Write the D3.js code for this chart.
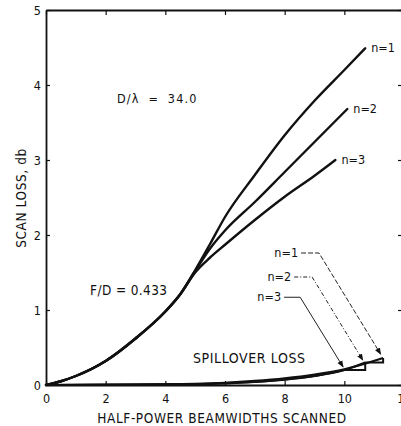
<!DOCTYPE html>
<html>
<head>
<meta charset="utf-8">
<script src="https://cdn.jsdelivr.net/npm/d3@7"></script>
<style>
  html, body { margin: 0; padding: 0; background: #fff; }
  svg { display: block; }
  text { font-family: "DejaVu Sans Condensed", "DejaVu Sans", sans-serif; font-stretch: condensed; fill: #111; }
</style>
</head>
<body>
<svg id="chart" width="401" height="426"></svg>
<script>
// Scan loss versus beamwidths scanned, for aperture distributions n = 1, 2, 3
const xTicks = [0, 2, 4, 6, 8, 10, 12];
const yTicks = [0, 1, 2, 3, 4, 5];

// shared portion of the scan-loss curve (all n coincide here)
const commonX = [0, 0.5, 1, 2, 3, 4, 4.5];
const commonY = [0, 0.05, 0.12, 0.32, 0.62, 0.98, 1.21];

// branches after the curves separate
const n1X = [5, 5.5, 6, 7, 8, 9, 10, 10.7];
const n1Y = [1.53, 1.88, 2.24, 2.8, 3.33, 3.79, 4.2, 4.49];
const n2X = [5, 5.5, 6, 7, 8, 9, 10.1];
const n2Y = [1.52, 1.82, 2.06, 2.44, 2.84, 3.24, 3.68];
const n3X = [5, 5.5, 6, 7, 8, 9, 9.7];
const n3Y = [1.5, 1.7, 1.87, 2.2, 2.51, 2.79, 3.0];
const scanLabels = ["n=1", "n=2", "n=3"];

// spillover loss curves
const spillX1 = [0, 3, 5, 6, 7, 8, 9, 10, 11.3];
const spillY1 = [0, 0.003, 0.015, 0.03, 0.055, 0.09, 0.14, 0.21, 0.36];
const spillX2 = [0, 5, 6, 7, 8, 9, 10, 10.7];
const spillY2 = [0, 0.012, 0.025, 0.045, 0.075, 0.12, 0.2, 0.3];
const spillX3 = [0, 5, 6, 7, 8, 9, 10];
const spillY3 = [0, 0.01, 0.02, 0.04, 0.07, 0.12, 0.2];

// callout labels for the spillover curves: label anchor and arrow target (data units)
const spillLabels = ["n=1", "n=2", "n=3"];
const calloutFrom = [[8.55, 1.76], [8.32, 1.44], [7.98, 1.17]];
const calloutBend = [[9.15, 1.76], [8.92, 1.44], [8.52, 1.17]];
const calloutTo = [[11.22, 0.41], [10.62, 0.33], [9.96, 0.24]];
const calloutDash = ["5,2", "4,2,1,2", null];

const svg = d3.select("#chart");
const x = d3.scaleLinear().domain([0, 12]).range([46, 404]);
const y = d3.scaleLinear().domain([0, 5]).range([385, 10]);

svg.append("rect").attr("width", 401).attr("height", 426).attr("fill", "#fff");

// axes with inward ticks
const axisStyle = g => {
  g.selectAll(".domain").attr("stroke", "#111").attr("stroke-width", 1.8);
  g.selectAll(".tick line").attr("stroke", "#111").attr("stroke-width", 1.2);
  g.selectAll(".tick text").attr("fill", "#111").style("font-size", "12.5px");
};
svg.append("g").attr("transform", `translate(0,${y(0)})`)
  .call(d3.axisBottom(x).tickValues(xTicks).tickSize(-4).tickSizeOuter(0).tickPadding(9).tickFormat(d3.format("d")))
  .call(axisStyle);
svg.append("g").attr("transform", `translate(${x(0)},0)`)
  .call(d3.axisLeft(y).tickValues(yTicks).tickSize(-4).tickSizeOuter(0).tickPadding(5).tickFormat(d3.format("d")))
  .call(axisStyle);
svg.append("g").attr("transform", `translate(0,${y(5)})`)
  .call(d3.axisTop(x).tickValues(xTicks).tickSize(-5).tickSizeOuter(0).tickFormat(""))
  .call(axisStyle);
svg.append("g").attr("transform", `translate(${x(12)},0)`)
  .call(d3.axisRight(y).tickValues(yTicks).tickSize(-6).tickSizeOuter(0).tickFormat(""))
  .call(axisStyle);

// axis titles
svg.append("text").attr("x", 222).attr("y", 423).attr("text-anchor", "middle")
  .style("font-size", "13.5px").style("letter-spacing", "0.6px").text("HALF-POWER BEAMWIDTHS SCANNED");
svg.append("text").attr("transform", "translate(26,198) rotate(-90)").attr("text-anchor", "middle")
  .style("font-size", "13.5px").style("letter-spacing", "0.6px").text("SCAN LOSS, db");

const line = d3.line().x(d => x(d[0])).y(d => y(d[1])).curve(d3.curveMonotoneX);
const zip = (xs, ys) => xs.map((v, i) => [v, ys[i]]);
const common = zip(commonX, commonY);
const branches = [zip(n1X, n1Y), zip(n2X, n2Y), zip(n3X, n3Y)];

branches.forEach((b, i) => {
  const pts = common.concat(b);
  svg.append("path").attr("d", line(pts)).attr("fill", "none")
    .attr("stroke", "#111").attr("stroke-width", 2.4).attr("stroke-linecap", "round");
  const end = pts[pts.length - 1];
  svg.append("text").attr("x", x(end[0]) + 6).attr("y", y(end[1]) + 4)
    .style("font-size", "12.5px").text(scanLabels[i]);
});

// spillover loss curves
const spills = [zip(spillX1, spillY1), zip(spillX2, spillY2), zip(spillX3, spillY3)];
spills.forEach(s => {
  svg.append("path").attr("d", line(s)).attr("fill", "none")
    .attr("stroke", "#111").attr("stroke-width", 2.2);
});
// stepped end marks joining the spillover curve ends
const ends = spills.map(s => s[s.length - 1]);
for (let i = ends.length - 1; i > 0; i--) {
  const lo = ends[i], hi = ends[i - 1];
  svg.append("path")
    .attr("d", d3.line()([[x(lo[0]), y(lo[1])], [x(hi[0]), y(lo[1])], [x(hi[0]), y(hi[1])]]))
    .attr("fill", "none").attr("stroke", "#111").attr("stroke-width", 2);
}

// callouts
svg.append("defs").append("marker").attr("id", "arrow")
  .attr("viewBox", "0 0 10 10").attr("refX", 9).attr("refY", 5)
  .attr("markerWidth", 7).attr("markerHeight", 7).attr("orient", "auto")
  .append("path").attr("d", "M0,1 L10,5 L0,9 Z").attr("fill", "#111");
spillLabels.forEach((t, i) => {
  const a = calloutFrom[i], b = calloutBend[i], c = calloutTo[i];
  svg.append("text").attr("x", x(a[0]) - 3).attr("y", y(a[1]) + 4).attr("text-anchor", "end")
    .style("font-size", "12.5px").text(t);
  svg.append("path")
    .attr("d", d3.line()([[x(a[0]), y(a[1])], [x(b[0]), y(b[1])], [x(c[0]), y(c[1])]]))
    .attr("fill", "none").attr("stroke", "#222").attr("stroke-width", 1)
    .attr("stroke-dasharray", calloutDash[i]).attr("marker-end", "url(#arrow)");
});

// annotations
svg.append("text").attr("x", 117).attr("y", 103).style("font-size", "12.5px")
  .style("letter-spacing", "1.2px").style("word-spacing", "4px").text("D/λ = 34.0");
svg.append("text").attr("x", 90).attr("y", 295).style("font-size", "13.5px")
  .style("letter-spacing", "0.4px").text("F/D = 0.433");
svg.append("text").attr("x", 193).attr("y", 363).style("font-size", "14px").style("letter-spacing", "0.6px").text("SPILLOVER LOSS");
</script>
</body>
</html>
